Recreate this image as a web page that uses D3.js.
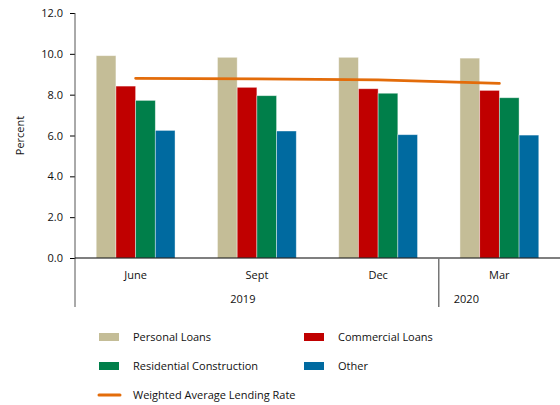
<!DOCTYPE html>
<html>
<head>
<meta charset="utf-8">
<script src="https://cdn.jsdelivr.net/npm/d3@7"></script>
<style>
  html, body { margin: 0; padding: 0; background: #fff; }
  svg { display: block; font-family: "Open Sans", sans-serif; }
</style>
</head>
<body>
<svg id="chart" width="560" height="405"></svg>
<script>
// Lending rates by loan type, quarterly
const quarters = ["June", "Sept", "Dec", "Mar"];
const years = [{ label: "2019", from: 0, to: 3 }, { label: "2020", from: 3, to: 4 }];
const seriesNames = ["Personal Loans", "Commercial Loans", "Residential Construction", "Other"];
const personalLoans = [9.91, 9.83, 9.83, 9.79];
const commercialLoans = [8.42, 8.36, 8.29, 8.21];
const residentialConstruction = [7.72, 7.95, 8.07, 7.85];
const otherLoans = [6.25, 6.22, 6.04, 6.02];
const weightedAverage = [8.80, 8.77, 8.72, 8.55];
const lineName = "Weighted Average Lending Rate";
const yTicks = [0, 2, 4, 6, 8, 10, 12];

const seriesValues = [personalLoans, commercialLoans, residentialConstruction, otherLoans];
const colors = ["#C4BD97", "#C00000", "#007F4A", "#006AA0"];
const lineColor = "#E36C0A";
const textColor = "#111";

const svg = d3.select("#chart");
const plotLeft = 75, plotRight = 560, plotTop = 13, plotBottom = 258;

const x = d3.scaleBand().domain(quarters).range([plotLeft, plotRight]).paddingInner(0.35).paddingOuter(0.175);
const xSub = d3.scaleBand().domain(seriesNames).range([0, x.bandwidth()]);
const y = d3.scaleLinear().domain([0, 12]).range([plotBottom, plotTop]);

// y axis
const yAxis = svg.append("g")
  .attr("transform", `translate(${plotLeft},0)`)
  .call(d3.axisLeft(y).tickValues(yTicks).tickFormat(d3.format(".1f")).tickSize(5).tickSizeOuter(0));
yAxis.select(".domain").remove();
yAxis.selectAll(".tick line").attr("stroke", "#000");
yAxis.selectAll(".tick text").attr("font-size", 11).attr("fill", textColor).attr("x", -12)
  .attr("font-family", "Open Sans, sans-serif");
svg.append("line").attr("x1", plotLeft).attr("x2", plotLeft).attr("y1", plotTop).attr("y2", 307)
  .attr("stroke", "#555").attr("stroke-width", 1);

svg.append("text")
  .attr("transform", `translate(24,${(plotTop + plotBottom) / 2}) rotate(-90)`)
  .attr("text-anchor", "middle")
  .attr("font-size", 11).attr("fill", textColor)
  .text("Percent");

// bars
const groups = svg.append("g").selectAll("g")
  .data(quarters)
  .join("g")
  .attr("transform", d => `translate(${x(d)},0)`);

groups.selectAll("rect")
  .data((q, i) => seriesNames.map((s, j) => ({ s, j, v: seriesValues[j][i] })))
  .join("rect")
  .attr("x", d => xSub(d.s))
  .attr("width", xSub.bandwidth())
  .attr("y", d => y(d.v))
  .attr("height", d => y(0) - y(d.v))
  .attr("fill", d => colors[d.j])
  .attr("stroke", "rgba(255,255,255,0.5)")
  .attr("stroke-width", 0.8);

// weighted average line
const line = d3.line()
  .x((d, i) => x(quarters[i]) + x.bandwidth() / 2)
  .y(d => y(d));
svg.append("path")
  .datum(weightedAverage)
  .attr("d", line)
  .attr("fill", "none")
  .attr("stroke", lineColor)
  .attr("stroke-width", 2.8)
  .attr("stroke-linecap", "round");

// x axis baseline and category labels
svg.append("line").attr("x1", plotLeft).attr("x2", plotRight).attr("y1", plotBottom).attr("y2", plotBottom)
  .attr("stroke", "#000").attr("stroke-width", 1.2);

const step = x.step();
const catX = i => plotLeft + step * i;
svg.append("line").attr("x1", catX(3)).attr("x2", catX(3)).attr("y1", plotBottom).attr("y2", 307)
  .attr("stroke", "#777").attr("stroke-width", 1.5);

svg.append("g").selectAll("text")
  .data(quarters)
  .join("text")
  .attr("x", d => x(d) + x.bandwidth() / 2)
  .attr("y", 279)
  .attr("text-anchor", "middle")
  .attr("font-size", 11).attr("fill", textColor)
  .text(d => d);

svg.append("g").selectAll("text")
  .data(years)
  .join("text")
  .attr("x", d => d.label === "2019" ? (catX(d.from) + catX(d.to)) / 2 - 14 : (catX(d.from) + catX(d.to)) / 2 - 33)
  .attr("y", 303)
  .attr("text-anchor", "middle")
  .attr("font-size", 11).attr("fill", textColor)
  .text(d => d.label);

// legend
const legendItems = [
  { name: seriesNames[0], color: colors[0], col: 0, row: 0 },
  { name: seriesNames[1], color: colors[1], col: 1, row: 0 },
  { name: seriesNames[2], color: colors[2], col: 0, row: 1 },
  { name: seriesNames[3], color: colors[3], col: 1, row: 1 }
];
const colX = [99, 304], rowY = [337, 366, 395];
const legend = svg.append("g");
legendItems.forEach(d => {
  legend.append("rect")
    .attr("x", colX[d.col]).attr("y", rowY[d.row] - 4)
    .attr("width", 20).attr("height", 8)
    .attr("fill", d.color);
  legend.append("text")
    .attr("x", colX[d.col] + 34).attr("y", rowY[d.row] + 4)
    .attr("font-size", 11).attr("fill", textColor)
    .text(d.name);
});
legend.append("line")
  .attr("x1", colX[0]).attr("x2", colX[0] + 21)
  .attr("y1", rowY[2]).attr("y2", rowY[2])
  .attr("stroke", lineColor).attr("stroke-width", 3).attr("stroke-linecap", "round");
legend.append("text")
  .attr("x", colX[0] + 34).attr("y", rowY[2] + 4)
  .attr("font-size", 11).attr("fill", textColor)
  .text(lineName);
</script>
</body>
</html>
